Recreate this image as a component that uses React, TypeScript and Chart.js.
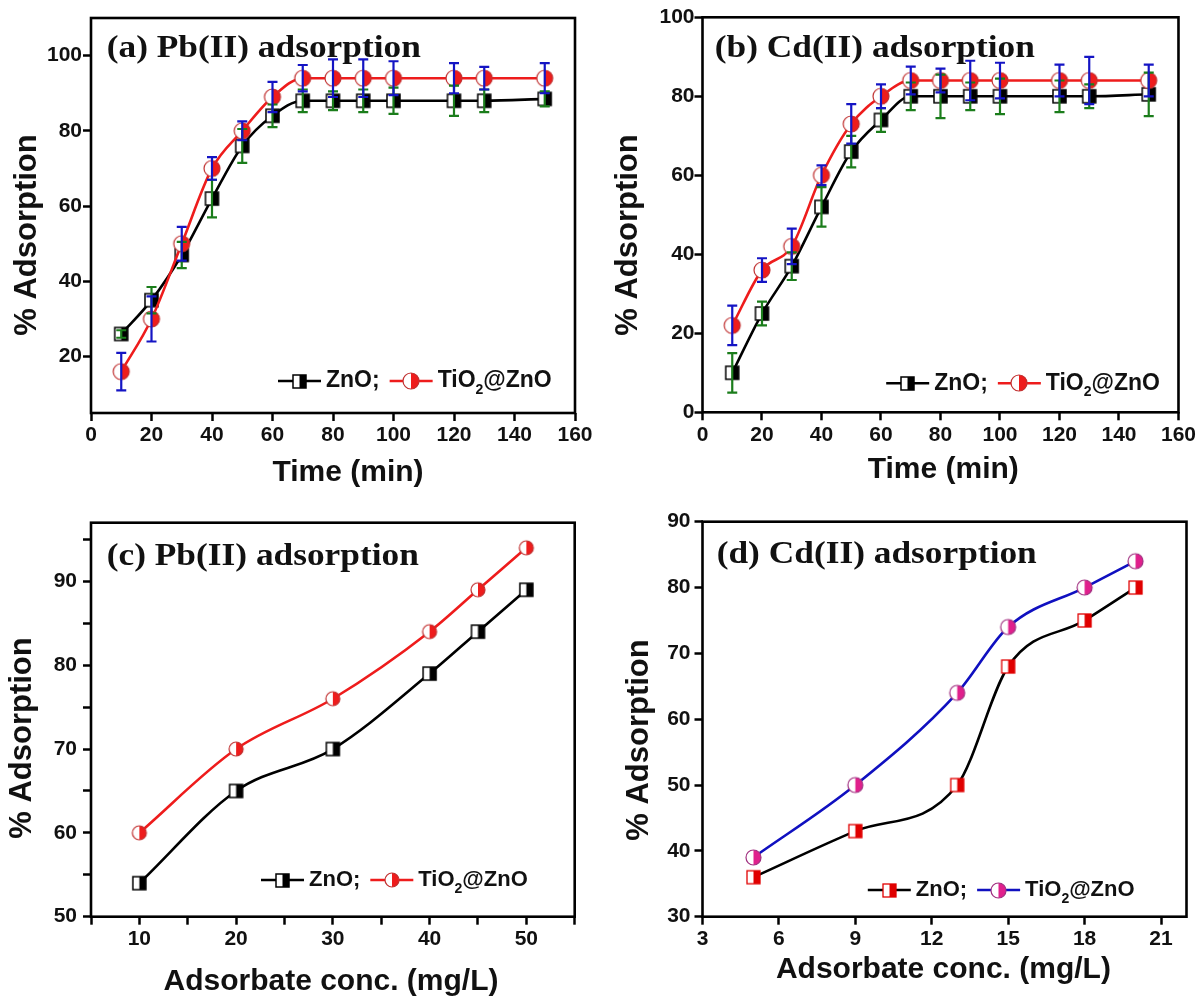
import React, { useEffect, useRef } from 'react';
import { Chart, registerables } from 'chart.js';

Chart.register(...registerables);

// ---------- DATA ----------
// (a) Pb(II) adsorption vs contact time
const timeMin = [10, 20, 30, 40, 50, 60, 70, 80, 90, 100, 120, 130, 150];
const pbTimeZnO = [26, 35, 47, 62, 76, 84, 88, 88, 88, 88, 88, 88, 88.5];
const pbTimeZnOErr = [1, 3.5, 3.5, 5, 4.5, 3, 3, 2.5, 3, 3.5, 4, 3, 2];
const pbTimeTi = [16, 30, 50, 70, 80, 89, 94, 94, 94, 94, 94, 94, 94];
const pbTimeTiErr = [5, 6, 4.5, 3, 2.5, 4, 3.5, 5, 5, 4.5, 4, 3, 4];

// (b) Cd(II) adsorption vs contact time
const cdTimeZnO = [10, 25, 37, 52, 66, 74, 80, 80, 80, 80, 80, 80, 80.5];
const cdTimeZnOErr = [5, 3, 3.5, 5, 4, 3, 3.5, 5.5, 3.5, 4.5, 4, 3, 5.5];
const cdTimeTi = [22, 36, 42, 60, 73, 80, 84, 84, 84, 84, 84, 84, 84];
const cdTimeTiErr = [5, 3, 4.5, 2.5, 5, 3, 3.5, 3, 5, 4.5, 4, 6, 4];

// (c) Pb(II) adsorption vs adsorbate concentration
const concPb = [10, 20, 30, 40, 45, 50];
const pbConcZnO = [54, 65, 70, 79, 84, 89];
const pbConcTi = [60, 70, 76, 84, 89, 94];

// (d) Cd(II) adsorption vs adsorbate concentration
const concCd = [5, 9, 13, 15, 18, 20];
const cdConcZnO = [36, 43, 50, 68, 75, 80];
const cdConcTi = [39, 50, 64, 74, 80, 84];

// ---------- TICKS ----------
const timeTicks = [0, 20, 40, 60, 80, 100, 120, 140, 160];
const pctTicksA = [20, 40, 60, 80, 100];
const pctTicksB = [0, 20, 40, 60, 80, 100];
const concTicksC = [5, 10, 15, 20, 25, 30, 35, 40, 45, 50, 55];
const concLabelsC = [10, 20, 30, 40, 50];
const pctTicksC = [50, 55, 60, 65, 70, 75, 80, 85, 90, 95];
const pctLabelsC = [50, 60, 70, 80, 90];
const concTicksD = [3, 6, 9, 12, 15, 18, 21];
const pctTicksD = [30, 40, 50, 60, 70, 80, 90];

const panelTitles = ['(a) Pb(II) adsorption', '(b) Cd(II) adsorption', '(c) Pb(II) adsorption', '(d) Cd(II) adsorption'];
const xTitles = ['Time (min)', 'Time (min)', 'Adsorbate conc. (mg/L)', 'Adsorbate conc. (mg/L)'];
const yTitle = '% Adsorption';

const SANS = '"Liberation Sans", Arial, sans-serif';
const SERIF = '"Liberation Serif", "Times New Roman", serif';

function makeMarker(shape: string, size: number, fill: string, stroke: string, lw: number) {
  const pad = Math.ceil(lw) + 1;
  const S = size + pad * 2;
  const c = document.createElement('canvas');
  c.width = S;
  c.height = S;
  const g = c.getContext('2d')!;
  const cx = S / 2, cy = S / 2, r = size / 2;
  if (shape === 'square') {
    g.fillStyle = '#fff';
    g.fillRect(cx - r, cy - r, size, size);
    g.fillStyle = fill;
    g.fillRect(cx, cy - r, r, size);
    g.strokeStyle = stroke;
    g.lineWidth = lw;
    g.strokeRect(cx - r, cy - r, size, size);
  } else {
    g.beginPath();
    g.arc(cx, cy, r, 0, Math.PI * 2);
    g.fillStyle = '#fff';
    g.fill();
    g.beginPath();
    g.moveTo(cx, cy - r);
    g.arc(cx, cy, r, -Math.PI / 2, Math.PI / 2);
    g.closePath();
    g.fillStyle = fill;
    g.fill();
    g.beginPath();
    g.arc(cx, cy, r, 0, Math.PI * 2);
    g.strokeStyle = stroke;
    g.lineWidth = lw;
    g.stroke();
  }
  return c;
}

const errorBarPlugin = {
  id: 'errorBars',
  afterDatasetsDraw(chart: any) {
    const ctx = chart.ctx;
    const xs = chart.scales.x, ys = chart.scales.y;
    const sets = [...chart.data.datasets].sort((p: any, q: any) => (q.order ?? 0) - (p.order ?? 0));
    sets.forEach((ds: any) => {
      if (!ds.errors) return;
      ctx.save();
      ctx.strokeStyle = ds.errorColor;
      ctx.lineWidth = 2.2;
      ds.data.forEach((p: any, i: number) => {
        const e = ds.errors[i];
        const px = xs.getPixelForValue(p.x);
        const y1 = ys.getPixelForValue(p.y + e);
        const y2 = ys.getPixelForValue(p.y - e);
        ctx.beginPath();
        ctx.moveTo(px, y1);
        ctx.lineTo(px, y2);
        ctx.moveTo(px - 5, y1);
        ctx.lineTo(px + 5, y1);
        ctx.moveTo(px - 5, y2);
        ctx.lineTo(px + 5, y2);
        ctx.stroke();
      });
      ctx.restore();
    });
  },
};

const decoPlugin = {
  id: 'deco',
  afterDraw(chart: any, _args: any, o: any) {
    const { ctx, chartArea: a } = chart;
    ctx.save();
    // frame
    ctx.strokeStyle = '#000';
    ctx.lineWidth = 2.6;
    ctx.strokeRect(a.left, a.top, a.right - a.left, a.bottom - a.top);

    // panel label (slightly widened serif, like the original)
    ctx.fillStyle = '#111';
    ctx.textAlign = 'left';
    ctx.textBaseline = 'alphabetic';
    ctx.font = `bold 31px ${SERIF}`;
    ctx.save();
    ctx.translate(a.left + o.titleDx, a.top + o.titleDy);
    ctx.scale(1.14, 1);
    ctx.fillText(o.title, 0, 0);
    ctx.restore();

    // axis titles
    ctx.textAlign = 'center';
    ctx.textBaseline = 'middle';
    ctx.font = `bold 30px ${SANS}`;
    ctx.fillText(o.xTitle, o.xTitleX, o.xTitleY);
    ctx.save();
    ctx.translate(o.yTitleX, o.yTitleY);
    ctx.rotate(-Math.PI / 2);
    ctx.font = `bold 31px ${SANS}`;
    ctx.fillText(o.yTitle, 0, 0);
    ctx.restore();

    // legend
    ctx.textAlign = 'left';
    let x = a.left + o.legendDx;
    const y = a.bottom - o.legendDy;
    const mainFont = `bold ${o.legendFont}px ${SANS}`;
    const subFont = `bold ${Math.round(o.legendFont * 0.62)}px ${SANS}`;
    o.items.forEach((it: any) => {
      ctx.strokeStyle = it.lineColor;
      ctx.lineWidth = 2.6;
      ctx.beginPath();
      ctx.moveTo(x, y);
      ctx.lineTo(x + 43, y);
      ctx.stroke();
      const m = it.marker;
      ctx.drawImage(m, Math.round(x + 21.5 - m.width / 2), Math.round(y - m.height / 2));
      x += 48;
      ctx.fillStyle = '#111';
      it.parts.forEach((pt: any) => {
        if (pt.sub) {
          ctx.font = subFont;
          ctx.fillText(pt.t, x, y + 9);
        } else {
          ctx.font = mainFont;
          ctx.fillText(pt.t, x, y);
        }
        x += ctx.measureText(pt.t).width;
      });
      x += 10;
    });
    ctx.restore();
  },
};

const pts = (xs: number[], ys: number[]) => xs.map((x, i) => ({ x, y: ys[i] }));

function PanelChart({ cfg }: { cfg: any }) {
  const ref = useRef<HTMLCanvasElement>(null);
  useEffect(() => {
    const c = cfg.build();
    const g = cfg.geom;
    const chart = new Chart(ref.current!, {
      type: 'line',
      data: { datasets: c.datasets },
      plugins: [errorBarPlugin, decoPlugin],
      options: {
        responsive: false,
        animation: false,
        events: [],
        layout: { autoPadding: false, padding: { left: 0, top: g.t, right: g.w - g.r, bottom: 0 } },
        plugins: {
          legend: { display: false },
          tooltip: { enabled: false },
          deco: {
            title: cfg.title,
            titleDx: g.titleDx,
            titleDy: g.titleDy,
            legendDx: g.legendDx,
            legendDy: g.legendDy,
            legendFont: g.legendFont,
            xTitle: cfg.xTitle,
            xTitleX: g.xTitleX,
            xTitleY: g.xTitleY,
            yTitle: yTitle,
            yTitleX: g.yTitleX,
            yTitleY: g.yTitleY,
            items: c.legendItems,
          },
        } as any,
        scales: {
          x: {
            type: 'linear',
            min: cfg.xMin,
            max: cfg.xMax,
            afterBuildTicks: (s: any) => { s.ticks = cfg.xTicks.map((v: number) => ({ value: v })); },
            afterFit: (s: any) => { s.height = g.h - g.b; },
            border: { display: false },
            grid: { display: true, drawOnChartArea: false, drawTicks: true, tickLength: 8, tickWidth: 2.5, tickColor: '#000' },
            ticks: {
              autoSkip: false,
              maxRotation: 0,
              padding: 2,
              color: '#111',
              font: { family: SANS, size: 21, weight: 'bold' },
              callback: (v: any) => (cfg.xLabels.includes(v) ? String(v) : ''),
            },
          },
          y: {
            type: 'linear',
            min: cfg.yMin,
            max: cfg.yMax,
            afterBuildTicks: (s: any) => { s.ticks = cfg.yTicks.map((v: number) => ({ value: v })); },
            afterFit: (s: any) => { s.width = g.l; },
            border: { display: false },
            grid: { display: true, drawOnChartArea: false, drawTicks: true, tickLength: 8, tickWidth: 2.5, tickColor: '#000' },
            ticks: {
              autoSkip: false,
              padding: g.yTickPad,
              color: '#111',
              font: { family: SANS, size: 21, weight: 'bold' },
              callback: (v: any) => (cfg.yLabels.includes(v) ? String(v) : ''),
            },
          },
        },
      } as any,
    });
    return () => chart.destroy();
  }, [cfg]);
  const g = cfg.geom;
  return (
    <canvas
      ref={ref}
      width={g.w}
      height={g.h}
      style={{ position: 'absolute', left: g.x, top: g.y, width: g.w, height: g.h, display: 'block' }}
    />
  );
}

const RED = '#ee1c1c';
const GREEN = '#1b7d1b';
const BLUE = '#1414c4';

function timeBuild(zno: number[], znoErr: number[], ti: number[], tiErr: number[]) {
  return () => {
    const sq = makeMarker('square', 13, '#000', '#000', 1.5);
    const ci = makeMarker('circle', 16, RED, '#c03030', 1.2);
    return {
      datasets: [
        {
          data: pts(timeMin, zno), borderColor: '#000', borderWidth: 2.6, pointStyle: sq, pointRadius: 7,
          cubicInterpolationMode: 'monotone', fill: false, errors: znoErr, errorColor: GREEN, order: 1,
        },
        {
          data: pts(timeMin, ti), borderColor: RED, borderWidth: 2.6, pointStyle: ci, pointRadius: 7,
          cubicInterpolationMode: 'monotone', fill: false, errors: tiErr, errorColor: BLUE, order: 0,
        },
      ],
      legendItems: [
        { lineColor: '#000', marker: sq, parts: [{ t: 'ZnO;' }] },
        { lineColor: RED, marker: ci, parts: [{ t: 'TiO' }, { t: '2', sub: true }, { t: '@ZnO' }] },
      ],
    };
  };
}

const PANELS = [
  {
    title: panelTitles[0], xTitle: xTitles[0],
    xMin: 0, xMax: 160, xTicks: timeTicks, xLabels: timeTicks,
    yMin: 5, yMax: 110, yTicks: pctTicksA, yLabels: pctTicksA,
    geom: {
      x: 0, y: 0, w: 599, h: 498, l: 91, r: 575, t: 18, b: 413,
      titleDx: 15.7, titleDy: 39, legendDx: 187, legendDy: 32, legendFont: 23,
      xTitleX: 348, xTitleY: 473, yTitleX: 27, yTitleY: 235, yTickPad: 1,
    },
    build: timeBuild(pbTimeZnO, pbTimeZnOErr, pbTimeTi, pbTimeTiErr),
  },
  {
    title: panelTitles[1], xTitle: xTitles[1],
    xMin: 0, xMax: 160, xTicks: timeTicks, xLabels: timeTicks,
    yMin: 0, yMax: 100, yTicks: pctTicksB, yLabels: pctTicksB,
    geom: {
      x: 599, y: 0, w: 599, h: 498, l: 103.5, r: 586.4, t: 17.3, b: 412.3,
      titleDx: 12.3, titleDy: 40, legendDx: 183.7, legendDy: 29, legendFont: 23,
      xTitleX: 344.3, xTitleY: 470, yTitleX: 29.7, yTitleY: 235, yTickPad: 0,
    },
    build: timeBuild(cdTimeZnO, cdTimeZnOErr, cdTimeTi, cdTimeTiErr),
  },
  {
    title: panelTitles[2], xTitle: xTitles[2],
    xMin: 5, xMax: 55, xTicks: concTicksC, xLabels: concLabelsC,
    yMin: 50, yMax: 97, yTicks: pctTicksC, yLabels: pctLabelsC,
    geom: {
      x: 0, y: 498, w: 599, h: 499, l: 91, r: 574.7, t: 24.7, b: 418.7,
      titleDx: 15.7, titleDy: 42.3, legendDx: 170, legendDy: 36.7, legendFont: 22,
      xTitleX: 331, xTitleY: 484, yTitleX: 22, yTitleY: 240, yTickPad: 6,
    },
    build: () => {
      const sq = makeMarker('square', 13, '#000', '#000', 1.5);
      const ci = makeMarker('circle', 14, RED, '#c03030', 1.2);
      return {
        datasets: [
          { data: pts(concPb, pbConcZnO), borderColor: '#000', borderWidth: 2.6, pointStyle: sq, pointRadius: 7, cubicInterpolationMode: 'monotone', fill: false, order: 1 },
          { data: pts(concPb, pbConcTi), borderColor: RED, borderWidth: 2.6, pointStyle: ci, pointRadius: 7, cubicInterpolationMode: 'monotone', fill: false, order: 0 },
        ],
        legendItems: [
          { lineColor: '#000', marker: sq, parts: [{ t: 'ZnO;' }] },
          { lineColor: RED, marker: ci, parts: [{ t: 'TiO' }, { t: '2', sub: true }, { t: '@ZnO' }] },
        ],
      };
    },
  },
  {
    title: panelTitles[3], xTitle: xTitles[3],
    xMin: 3, xMax: 22, xTicks: concTicksD, xLabels: concTicksD,
    yMin: 30, yMax: 90, yTicks: pctTicksD, yLabels: pctTicksD,
    geom: {
      x: 599, y: 498, w: 599, h: 499, l: 103.5, r: 587.5, t: 23.7, b: 418.7,
      titleDx: 14.2, titleDy: 41.6, legendDx: 165.3, legendDy: 26.7, legendFont: 22,
      xTitleX: 344.4, xTitleY: 472, yTitleX: 40, yTitleY: 242, yTickPad: 4,
    },
    build: () => {
      const sq = makeMarker('square', 13, '#e00000', '#e00000', 1.3);
      const ci = makeMarker('circle', 15, '#e0208c', '#a03080', 1.2);
      return {
        datasets: [
          { data: pts(concCd, cdConcZnO), borderColor: '#000', borderWidth: 2.6, pointStyle: sq, pointRadius: 7, cubicInterpolationMode: 'monotone', fill: false, order: 1 },
          { data: pts(concCd, cdConcTi), borderColor: '#1010c0', borderWidth: 2.6, pointStyle: ci, pointRadius: 7, cubicInterpolationMode: 'monotone', fill: false, order: 0 },
        ],
        legendItems: [
          { lineColor: '#000', marker: sq, parts: [{ t: 'ZnO;' }] },
          { lineColor: '#1010c0', marker: ci, parts: [{ t: 'TiO' }, { t: '2', sub: true }, { t: '@ZnO' }] },
        ],
      };
    },
  },
];

export default function App() {
  return (
    <div style={{ position: 'absolute', left: 0, top: 0, width: 1198, height: 997, background: '#fff', overflow: 'hidden' }}>
      {PANELS.map((p, i) => (
        <PanelChart key={i} cfg={p} />
      ))}
    </div>
  );
}
